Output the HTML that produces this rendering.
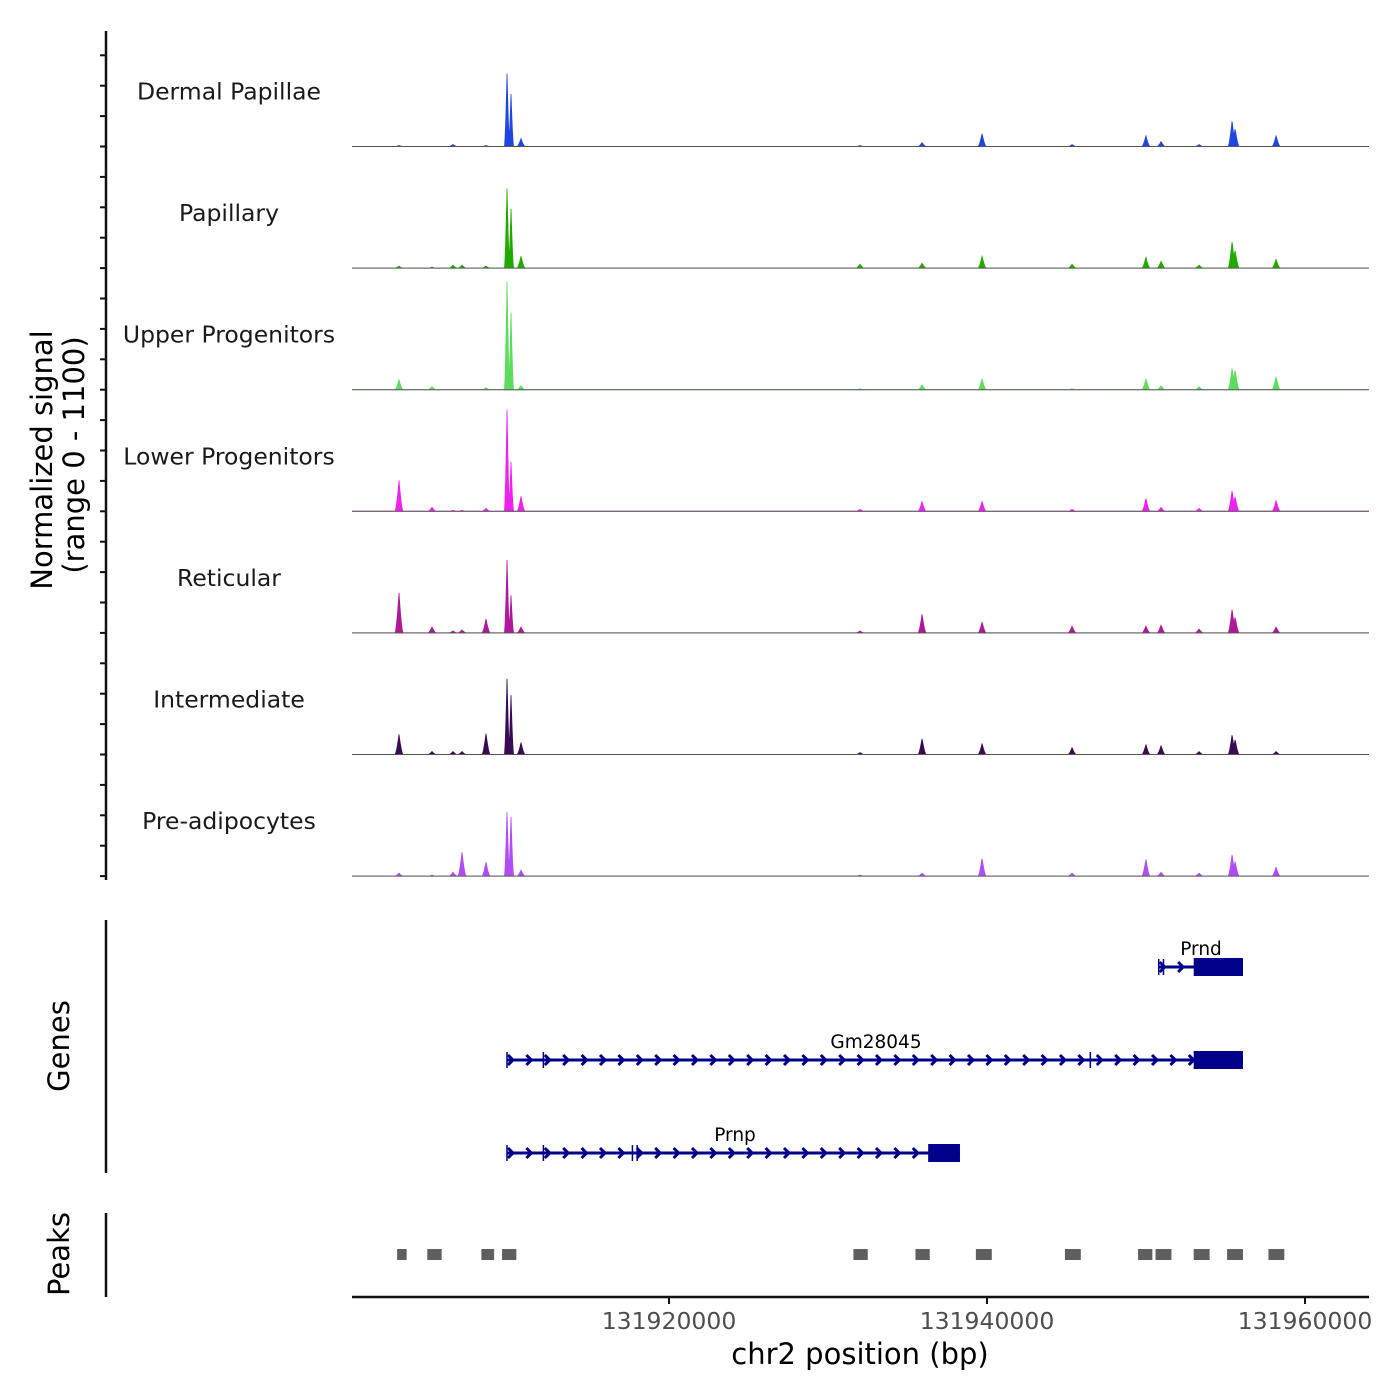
<!DOCTYPE html>
<html><head><meta charset="utf-8"><style>
body{margin:0;background:#fff}
svg{display:block;font-family:"DejaVu Sans","Liberation Sans",sans-serif}
</style></head><body>
<svg id="c" width="1400" height="1400" viewBox="0 0 1400 1400"></svg>
<script>
const tracks=["Dermal Papillae","Papillary","Upper Progenitors","Lower Progenitors","Reticular","Intermediate","Pre-adipocytes"];
const colors=["#1f47e0","#22aa00","#5ddc5d","#ee22ee","#b0189a","#3a0a55","#b04cf5"];
const peakPos=[131903019,131905095,131906416,131906982,131908492,131909813,131910064,131910693,131932016,131935916,131939690,131945351,131949996,131950949,131953339,131955415,131955604,131958183];
const sigDermal=[9,0,18,0,9,669,479,72,9,36,118,18,99,45,18,235,163,99];
const sigPapillary=[18,9,27,27,18,732,542,108,36,45,108,36,99,63,27,244,163,81];
const sigUpper=[90,27,0,0,18,994,705,36,9,45,99,9,99,36,27,199,181,118];
const sigLower=[280,36,9,9,27,931,452,136,18,90,90,18,118,36,27,190,136,99];
const sigReticular=[362,54,18,27,127,669,343,54,18,172,99,63,63,72,36,217,145,54];
const sigIntermediate=[181,27,27,27,190,696,542,108,18,145,99,63,90,81,27,181,136,27];
const sigPreadipo=[27,9,36,217,127,588,542,54,9,27,163,27,154,36,27,199,136,81];
const signals=[sigDermal,sigPapillary,sigUpper,sigLower,sigReticular,sigIntermediate,sigPreadipo];
const xTicks=[131920000,131940000,131960000];
const peakStarts=[131902900,131904800,131908200,131909500,131931600,131935500,131939300,131944900,131949500,131950600,131953000,131955100,131957700];
const peakEnds=[131903500,131905700,131909000,131910400,131932500,131936400,131940300,131945900,131950400,131951600,131954000,131956100,131958700];
const genes=["Prnd","Gm28045","Prnp"];
const geneStart=[131950800,131909810,131909810];
const geneEnd=[131956100,131956100,131938300];
const cdsStart=[131953000,131953000,131936300];
const exonMarks=[[131950800,131951100],[131909810,131912100,131946500],[131909810,131912100,131917700,131918000]];

const X0=131900063,PX0=352,K=0.0159;
const sx=b=>PX0+(b-X0)*K;
const TRACK_H=121.6, BASE0=146.5;
const sy=(i,v)=>BASE0+i*TRACK_H - v/1100*TRACK_H;
const svg=document.getElementById('c');
const NS="http://www.w3.org/2000/svg";
function mk(tag,attrs,parent){const e=document.createElementNS(NS,tag);for(const k in attrs)e.setAttribute(k,attrs[k]);(parent||svg).appendChild(e);return e;}

tracks.forEach((name,i)=>{
  const g=mk('g',{});
  
  
  const base=sy(i,0);
  let d='M352,'+base;
  for(let px=352;px<=1369;px+=0.5){
    let v=0;
    peakPos.forEach((p,j)=>{const dx=Math.abs(px-sx(p));const w=j==5||j==6?2.6:4;if(dx<w)v=Math.max(v,signals[i][j]*Math.pow(1-dx/w,1.5));});
    d+=' L'+px+','+sy(i,v).toFixed(2);
  }
  d+=' L1369,'+base+' Z';
  const path=mk('path',{d:d,fill:colors[i],stroke:colors[i],'stroke-width':0.8},g);
  
  
  const bl=mk('line',{x1:352,x2:1369,y1:base,y2:base,stroke:'#555','stroke-width':1},g);
  
  
  const t=mk('text',{x:229,y:base-47,'text-anchor':'middle','font-size':23.5,fill:'#1a1a1a'},g);
  t.textContent=name;
  
  
  for(let k=0;k<4;k++){
    const tk=mk('line',{x1:100,x2:106,y1:base-k*30.4,y2:base-k*30.4,stroke:'#111','stroke-width':2});
    
    
  }
});
let a=mk('line',{x1:106,x2:106,y1:31,y2:880,stroke:'#111','stroke-width':2.5});

let yt=mk('text',{transform:'translate(52,460) rotate(-90)','text-anchor':'middle','font-size':29,fill:'#000'});
yt.textContent='Normalized signal';

let yt2=mk('text',{transform:'translate(84,455) rotate(-90)','text-anchor':'middle','font-size':29,fill:'#000'});
yt2.textContent='(range 0 - 1100)';


const gy=[967,1060,1153];
a=mk('line',{x1:106,x2:106,y1:920,y2:1173,stroke:'#111','stroke-width':2.5});

let gt=mk('text',{transform:'translate(69,1046) rotate(-90)','text-anchor':'middle','font-size':29});
gt.textContent='Genes';
genes.forEach((n,i)=>{
  const g=mk('g',{stroke:'#00008b',fill:'none'});
  
  
  const x1=sx(geneStart[i]),x2=sx(geneEnd[i]),y=gy[i];
  mk('line',{x1:x1,x2:x2,y1:y,y2:y,'stroke-width':3},g);
  for(let x=x1+1;x<sx(cdsStart[i])-4;x+=18.4){mk('path',{d:`M${x},${y-5} L${x+5},${y} L${x},${y+5}`,'stroke-width':3},g);}
  exonMarks[i].forEach(b=>mk('line',{x1:sx(b),x2:sx(b),y1:y-8,y2:y+8,'stroke-width':1.5},g));
  mk('rect',{x:sx(cdsStart[i]),y:y-9,width:x2-sx(cdsStart[i]),height:18,fill:'#00008b',stroke:'none'},g);
  const t=mk('text',{x:[1201,876,735][i],y:y-12,'text-anchor':'middle','font-size':18.5,fill:'#000',stroke:'none'},g);
  t.textContent=n;
});

a=mk('line',{x1:106,x2:106,y1:1213,y2:1297,stroke:'#111','stroke-width':2.5});

let pt=mk('text',{transform:'translate(69,1254) rotate(-90)','text-anchor':'middle','font-size':29});
pt.textContent='Peaks';
peakStarts.forEach((s,i)=>{
  const r=mk('rect',{x:sx(s),y:1249,width:sx(peakEnds[i])-sx(s),height:11,fill:'#5f5f5f'});
  
  
});

a=mk('line',{x1:352,x2:1369,y1:1297,y2:1297,stroke:'#111','stroke-width':2.5});

xTicks.forEach(t=>{
  const tk=mk('line',{x1:sx(t),x2:sx(t),y1:1297,y2:1304,stroke:'#111','stroke-width':2});
  
  const l=mk('text',{x:sx(t),y:1329,'text-anchor':'middle','font-size':23.5,fill:'#4d4d4d'});
  l.textContent=t;
  
});
let xt=mk('text',{x:860,y:1364,'text-anchor':'middle','font-size':29,fill:'#000'});
xt.textContent='chr2 position (bp)';

</script>
</body></html>
